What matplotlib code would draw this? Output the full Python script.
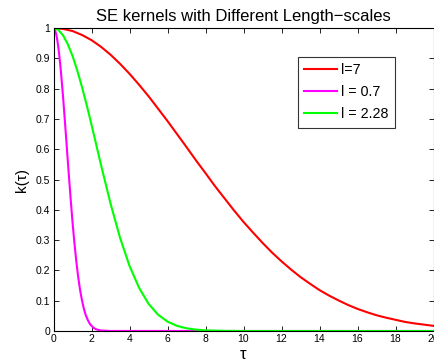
import matplotlib
matplotlib.use("Agg")
import matplotlib.pyplot as plt

# Data
tau_red = [0, 0.5, 1, 1.5, 2, 2.5, 3, 3.5, 4, 4.5, 5, 5.5, 6, 6.5, 7, 7.5, 8, 8.5, 9, 9.5,
           10, 10.5, 11, 11.5, 12, 12.5, 13, 13.5, 14, 14.5, 15, 15.5, 16, 16.5, 17,
           17.5, 18, 18.5, 19, 19.5, 20]
k_red = [1.0, 0.997, 0.990, 0.977, 0.960, 0.938, 0.912, 0.882, 0.849, 0.813, 0.775,
         0.734, 0.693, 0.650, 0.607, 0.563, 0.521, 0.478, 0.438, 0.398, 0.360, 0.325,
         0.291, 0.259, 0.230, 0.203, 0.178, 0.156, 0.135, 0.117, 0.101, 0.086, 0.073,
         0.062, 0.052, 0.044, 0.037, 0.030, 0.025, 0.021, 0.017]

tau_mag = [0, 0.05, 0.1, 0.15, 0.2, 0.25, 0.3, 0.35, 0.4, 0.5, 0.6, 0.7, 0.8, 0.9, 1.0,
           1.1, 1.2, 1.3, 1.4, 1.5, 1.6, 1.7, 1.8, 1.9, 2.0, 2.1, 2.2, 2.3, 2.4, 2.5,
           3.0, 20]
k_mag = [1.0, 0.997, 0.990, 0.977, 0.960, 0.938, 0.912, 0.882, 0.849, 0.775, 0.693,
         0.607, 0.521, 0.438, 0.360, 0.291, 0.230, 0.178, 0.135, 0.101, 0.073, 0.052,
         0.037, 0.025, 0.017, 0.011, 0.007, 0.0045, 0.0028, 0.0017, 0.0001, 0.0]

tau_grn = [0, 0.25, 0.5, 0.75, 1.0, 1.25, 1.5, 1.75, 2.0, 2.5, 3.0, 3.5, 4.0, 4.5, 5.0,
           5.5, 6.0, 6.5, 7.0, 7.5, 8.0, 9.0, 10.0, 20.0]
k_grn = [1.0, 0.994, 0.976, 0.947, 0.908, 0.860, 0.805, 0.745, 0.681, 0.548, 0.421,
         0.308, 0.215, 0.143, 0.090, 0.054, 0.031, 0.017, 0.009, 0.0045, 0.0021,
         0.0004, 0.0, 0.0]

labels = ["l=7", "l = 0.7", "l = 2.28"]
xticks = [0, 2, 4, 6, 8, 10, 12, 14, 16, 18, 20]
yticks = [0, 0.1, 0.2, 0.3, 0.4, 0.5, 0.6, 0.7, 0.8, 0.9, 1]
yticklabels = ["0", "0.1", "0.2", "0.3", "0.4", "0.5", "0.6", "0.7", "0.8", "0.9", "1"]

plt.rcParams['font.family'] = ['Liberation Sans', 'DejaVu Sans']

W, H = 434, 362
fig = plt.figure(figsize=(W / 100, H / 100), dpi=100)
ax = fig.add_axes([53.5 / W, 1 - 331 / H, (433.5 - 53.5) / W, (331 - 28) / H])

ax.plot(tau_red, k_red, color='#ff0000', lw=1.5, label=labels[0])
ax.plot(tau_mag, k_mag, color='#ff00ff', lw=1.5, label=labels[1])
ax.plot(tau_grn, k_grn, color='#00ff00', lw=1.5, label=labels[2])

ax.set_xlim(0, 20)
ax.set_ylim(0, 1)
ax.set_xticks(xticks)
ax.set_xticklabels([str(t) for t in xticks])
ax.set_yticks(yticks)
ax.set_yticklabels(yticklabels)
ax.tick_params(direction='in', top=True, right=True, labelsize=7.5, length=3.5,
               width=0.6, pad=2.5)
for s in ax.spines.values():
    s.set_linewidth(0.8)

ax.set_title("SE kernels with Different Length\u2212scales", fontsize=12, pad=5)
ax.set_xlabel("\u03c4", fontsize=12, labelpad=1.5)
ax.set_ylabel("k(\u03c4)", fontsize=11, labelpad=5)

leg = ax.legend(loc='upper right', bbox_to_anchor=((395 - 53.5) / (433.5 - 53.5), (331 - 57) / (331 - 28)),
                fontsize=10.3, frameon=True, fancybox=False, edgecolor='black',
                handlelength=2.3, handletextpad=0.3, borderpad=0.45, labelspacing=0.55,
                borderaxespad=0)
leg.get_frame().set_linewidth(0.8)

fig.savefig("out.png", dpi=100)
